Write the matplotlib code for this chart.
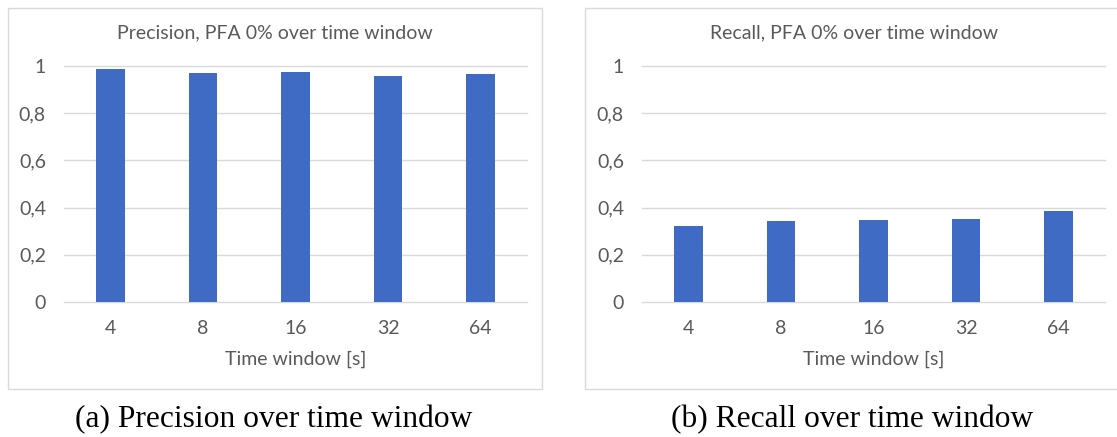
import matplotlib
matplotlib.use("Agg")
import matplotlib.pyplot as plt
from matplotlib.patches import Rectangle

# data
windows = ['4', '8', '16', '32', '64']
precision = [0.986, 0.970, 0.973, 0.958, 0.965]
recall = [0.322, 0.342, 0.347, 0.350, 0.387]
y_ticks = [0, 0.2, 0.4, 0.6, 0.8, 1.0]
y_labels = ['0', '0,2', '0,4', '0,6', '0,8', '1']

W, H = 1117, 437
BAR = '#3F6BC4'
TXT = '#595959'
GRID = '#D9D9D9'

plt.rcParams['font.family'] = ['Lato', 'DejaVu Sans']

fig = plt.figure(figsize=(W / 100, H / 100), dpi=100)


def px_rect(x0, y0, x1, y1):
    # pixel box (top-left origin) -> figure fraction [left, bottom, width, height]
    return [x0 / W, 1 - y1 / H, (x1 - x0) / W, (y1 - y0) / H]


def panel(box, ax_box, title, title_x, caption, caption_x, values):
    l, b, w, h = px_rect(*box)
    fig.patches.append(Rectangle((l, b), w, h, transform=fig.transFigure,
                                 facecolor='none', edgecolor=GRID, lw=1.0, zorder=-1))
    ax = fig.add_axes(px_rect(*ax_box))
    ax.set_facecolor('none')
    x = range(len(windows))
    ax.bar(x, values, width=0.31, color=BAR, zorder=3)
    ax.set_xlim(-0.5, len(windows) - 0.5)
    ax.set_ylim(0, 1)
    ax.set_yticks(y_ticks)
    ax.set_yticklabels(y_labels)
    ax.set_xticks(list(x))
    ax.set_xticklabels(windows)
    for t in y_ticks:
        ax.axhline(t, color=GRID, lw=1.0, zorder=1, clip_on=False)
    for s in ax.spines.values():
        s.set_visible(False)
    ax.tick_params(axis='y', length=0, pad=13, labelsize=14, labelcolor=TXT)
    ax.tick_params(axis='x', length=0, pad=13, labelsize=14, labelcolor=TXT)
    ax.set_xlabel('Time window [s]', fontsize=14, color=TXT, labelpad=10)
    fig.text(title_x / W, 1 - 33 / H, title, ha='center', va='center',
             fontsize=14, color=TXT)
    fig.text(caption_x / W, 1 - 420 / H, caption, ha='center', va='center',
             fontsize=22.7, color='black', family=['Liberation Serif', 'DejaVu Serif'])
    return ax


panel((8, 8, 542, 389), (64, 66, 527, 302),
      'Precision, PFA 0% over time window', 275,
      '(a) Precision over time window', 274, precision)
panel((585, 8, 1125, 389), (642, 66, 1105, 302),
      'Recall, PFA 0% over time window', 854,
      '(b) Recall over time window', 852, recall)

fig.savefig('out.png', dpi=100)
